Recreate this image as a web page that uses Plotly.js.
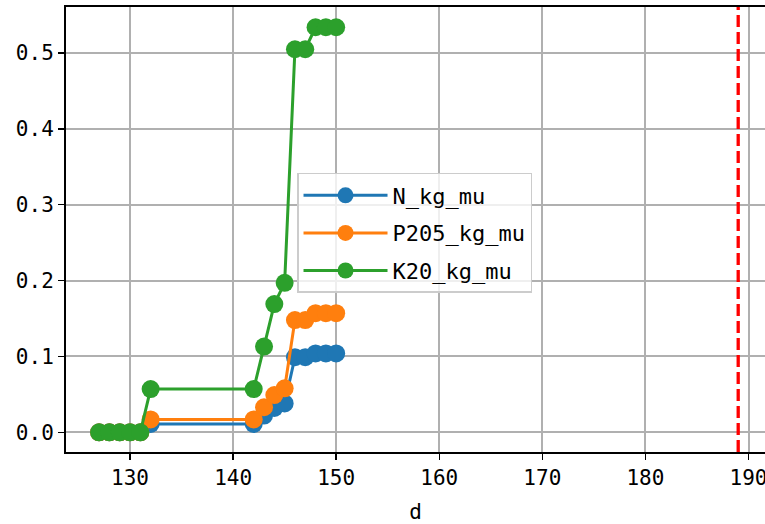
<!DOCTYPE html>
<html>
<head>
<meta charset="utf-8">
<script src="https://cdn.plot.ly/plotly-3.0.1.min.js"></script>
<style>html,body{margin:0;padding:0;background:#fff;}#chart{width:765px;height:524px;}</style>
</head>
<body>
<div id="chart"></div>
<script>
var days = [127,128,129,130,131,132,142,143,144,145,146,147,148,149,150];
var nKgMu = [0,0,0,0,0,0.011,0.011,0.022,0.032,0.038,0.099,0.099,0.104,0.104,0.104];
var p205KgMu = [0,0,0,0,0,0.017,0.017,0.033,0.049,0.058,0.148,0.148,0.157,0.157,0.157];
var k20KgMu = [0,0,0,0,0,0.057,0.057,0.113,0.169,0.197,0.505,0.505,0.534,0.534,0.534];
var seriesNames = ['N_kg_mu','P205_kg_mu','K20_kg_mu'];
var seriesColors = ['#1f77b4','#ff7f0e','#2ca02c'];
var vlineX = [189];
var xTicks = [130,140,150,160,170,180,190];
var yTicks = [0,0.1,0.2,0.3,0.4,0.5];
var yTickText = ['0.0','0.1','0.2','0.3','0.4','0.5'];

var font = 'DejaVu Sans Mono';
var ys = [nKgMu, p205KgMu, k20KgMu];
var traces = ys.map(function(y,i){
  return {
    x: days, y: y, type: 'scatter', mode: 'lines+markers',
    name: seriesNames[i], legendgroup: 'g'+i,
    line: {color: seriesColors[i], width: 3},
    marker: {color: seriesColors[i], size: 18}
  };
});

var layout = {
  width: 765, height: 524,
  margin: {l: 66, r: 0, t: 7, b: 72},
  paper_bgcolor: '#fff', plot_bgcolor: '#fff',
  font: {family: font, size: 20, color: '#000'},
  showlegend: true,
  legend: {
    x: 0.3305, y: 0.627, xanchor: 'left', yanchor: 'top',
    bgcolor: 'rgba(255,255,255,0.8)', bordercolor: '#cccccc', borderwidth: 1.5,
    font: {family: font, size: 22, color: '#000'},
    itemwidth: 84, tracegroupgap: 6, itemsizing: 'trace'
  },
  xaxis: {
    range: [123.79, 191.6],
    tickvals: xTicks, ticktext: xTicks.map(String),
    ticklabeloverflow: 'allow',
    showgrid: true, gridcolor: '#b0b0b0', gridwidth: 2,
    zeroline: false,
    showline: true, linecolor: '#000', linewidth: 2, mirror: true,
    ticks: 'outside', ticklen: 6, tickwidth: 1.5, tickcolor: '#000',
    tickfont: {family: font, size: 21, color: '#000'},
    title: {text: 'd', font: {family: font, size: 21, color: '#000'}, standoff: 16}
  },
  yaxis: {
    range: [-0.026, 0.5607],
    tickvals: yTicks, ticktext: yTickText,
    showgrid: true, gridcolor: '#b0b0b0', gridwidth: 2,
    zeroline: false,
    showline: true, linecolor: '#000', linewidth: 2, mirror: false,
    ticks: 'outside', ticklen: 6, tickwidth: 1.5, tickcolor: '#000',
    tickfont: {family: font, size: 21, color: '#000'}
  },
  shapes: vlineX.map(function(v){
    return {type: 'line', xref: 'x', yref: 'paper', x0: v, x1: v, y0: 0, y1: 1,
      line: {color: 'red', width: 3.3, dash: '12px,5px'}, layer: 'above'};
  })
};

Plotly.newPlot('chart', traces, layout, {displayModeBar: false, staticPlot: true});
</script>
</body>
</html>
